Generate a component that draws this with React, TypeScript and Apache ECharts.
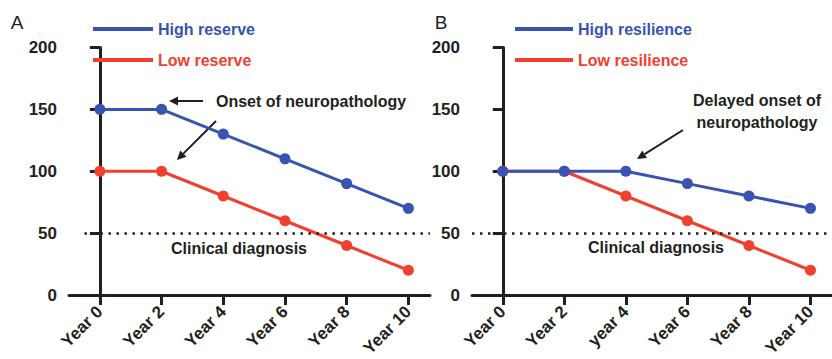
import React, { useEffect, useRef } from "react";
import * as echarts from "echarts";

const years = [0, 2, 4, 6, 8, 10];
const yearLabelsA = ["Year 0", "Year 2", "Year 4", "Year 6", "Year 8", "Year 10"];
const yearLabelsB = ["Year 0", "Year 2", "year 4", "Year 6", "Year 8", "Year 10"];
const highReserve = [150, 150, 130, 110, 90, 70];
const lowReserve = [100, 100, 80, 60, 40, 20];
const highResilience = [100, 100, 100, 90, 80, 70];
const lowResilience = [100, 100, 80, 60, 40, 20];
const diagnosisLevel = 50;
const yMin = 0;
const yMax = 200;
const yStep = 50;

const BLUE = "#3953b3";
const RED = "#f0402f";
const INK = "#231f20";
const FONT = "'Liberation Sans', Arial, Helvetica, sans-serif";

function pairs(values: number[]) {
  return years.map((x, i) => [x, values[i]]);
}

function arrow(x1: number, y1: number, x2: number, y2: number) {
  const dx = x2 - x1;
  const dy = y2 - y1;
  const len = Math.sqrt(dx * dx + dy * dy);
  const ux = dx / len;
  const uy = dy / len;
  const hl = 9;
  const hw = 4.5;
  const bx = x2 - ux * hl;
  const by = y2 - uy * hl;
  const nx = -uy;
  const ny = ux;
  return {
    type: "group",
    silent: true,
    children: [
      {
        type: "line",
        shape: { x1, y1, x2: bx, y2: by },
        style: { stroke: INK, lineWidth: 2 },
      },
      {
        type: "polygon",
        shape: {
          points: [
            [x2, y2],
            [bx + nx * hw, by + ny * hw],
            [bx - nx * hw, by - ny * hw],
          ],
        },
        style: { fill: INK },
      },
    ],
  };
}

function txt(text: string, x: number, y: number, opts: any = {}) {
  return {
    type: "text",
    silent: true,
    style: {
      text,
      x,
      y,
      fill: opts.fill || INK,
      fontSize: opts.fontSize || 16,
      fontWeight: opts.fontWeight || "bold",
      fontFamily: FONT,
      textAlign: opts.align || "center",
      textVerticalAlign: "middle",
    },
  };
}

function xAxisFor(gridIndex: number, labels: string[]) {
  return {
    type: "value",
    gridIndex,
    min: -1,
    max: 10.7,
    splitLine: { show: false },
    axisLine: { show: true, onZero: false, lineStyle: { color: INK, width: 3 } },
    axisTick: {
      show: true,
      length: 10,
      customValues: years,
      lineStyle: { color: INK, width: 3 },
    },
    axisLabel: {
      show: true,
      customValues: years,
      rotate: 45,
      margin: 14,
      color: INK,
      fontSize: 17,
      fontWeight: "bold",
      fontFamily: FONT,
      formatter: (v: number) => {
        const i = years.indexOf(v);
        return i >= 0 ? labels[i] : "";
      },
    },
  };
}

function yAxisFor(gridIndex: number) {
  return {
    type: "value",
    gridIndex,
    min: yMin,
    max: yMax,
    interval: yStep,
    splitLine: { show: false },
    axisLine: { show: true, lineStyle: { color: INK, width: 3 } },
    axisTick: { show: true, length: 10, lineStyle: { color: INK, width: 3 } },
    axisLabel: {
      color: INK,
      fontSize: 17,
      fontWeight: "bold",
      fontFamily: FONT,
      margin: 12,
    },
  };
}

function lineSeries(name: string, values: number[], color: string, idx: number, extra: any = {}) {
  return {
    name,
    type: "line",
    xAxisIndex: idx,
    yAxisIndex: idx,
    data: pairs(values),
    symbol: "circle",
    symbolSize: 11,
    lineStyle: { color, width: 3 },
    itemStyle: { color },
    ...extra,
  };
}

const dottedStyle = { color: INK, type: [2.5, 5.5], width: 2.5 };

export default function App() {
  const ref = useRef<HTMLDivElement>(null);

  useEffect(() => {
    if (!ref.current) return;
    const chart = echarts.init(ref.current, undefined, { renderer: "svg" });
    const legendText = { fontSize: 16, fontWeight: "bold", fontFamily: FONT };
    chart.setOption({
      animation: false,
      backgroundColor: "#ffffff",
      grid: [
        { left: 69, top: 47.5, width: 361, height: 247.5, containLabel: false, outerBoundsMode: "none" },
        { left: 472, top: 47.5, width: 360, height: 247.5, containLabel: false, outerBoundsMode: "none" },
      ],
      xAxis: [xAxisFor(0, yearLabelsA), xAxisFor(1, yearLabelsB)],
      yAxis: [yAxisFor(0), yAxisFor(1)],
      legend: [
        {
          left: 88,
          top: 16,
          orient: "vertical",
          icon: "rect",
          itemWidth: 60,
          itemHeight: 4,
          itemGap: 15,
          textStyle: legendText,
          data: [
            { name: "High reserve", textStyle: { color: BLUE } },
            { name: "Low reserve", textStyle: { color: RED } },
          ],
        },
        {
          left: 510,
          top: 16,
          orient: "vertical",
          icon: "rect",
          itemWidth: 58,
          itemHeight: 4,
          itemGap: 15,
          textStyle: legendText,
          data: [
            { name: "High resilience", textStyle: { color: BLUE } },
            { name: "Low resilience", textStyle: { color: RED } },
          ],
        },
      ],
      series: [
        lineSeries("Low reserve", lowReserve, RED, 0, {
          markLine: {
            silent: true,
            symbol: "none",
            label: { show: false },
            lineStyle: dottedStyle,
            data: [[{ coord: [-0.5, diagnosisLevel] }, { coord: [10.7, diagnosisLevel] }]],
          },
        }),
        lineSeries("High reserve", highReserve, BLUE, 0),
        lineSeries("Low resilience", lowResilience, RED, 1, {
          markLine: {
            silent: true,
            symbol: "none",
            label: { show: false },
            lineStyle: dottedStyle,
            data: [{ yAxis: diagnosisLevel }],
          },
        }),
        lineSeries("High resilience", highResilience, BLUE, 1),
      ],
      graphic: [
        txt("A", 17, 22, { fontWeight: "normal", fontSize: 19 }),
        txt("B", 441, 22, { fontWeight: "normal", fontSize: 19 }),
        txt("Onset of neuropathology", 216, 101, { align: "left" }),
        arrow(203, 101, 169, 101),
        arrow(216, 121, 177, 160),
        txt("Delayed onset of", 757, 100),
        txt("neuropathology", 757, 122),
        arrow(683, 130, 637, 159),
        txt("Clinical diagnosis", 239, 248),
        txt("Clinical diagnosis", 656, 247),
      ],
    });
    return () => chart.dispose();
  }, []);

  return (
    <div
      ref={ref}
      style={{ position: "fixed", left: 0, top: 0, width: 832, height: 359, background: "#fff" }}
    />
  );
}
